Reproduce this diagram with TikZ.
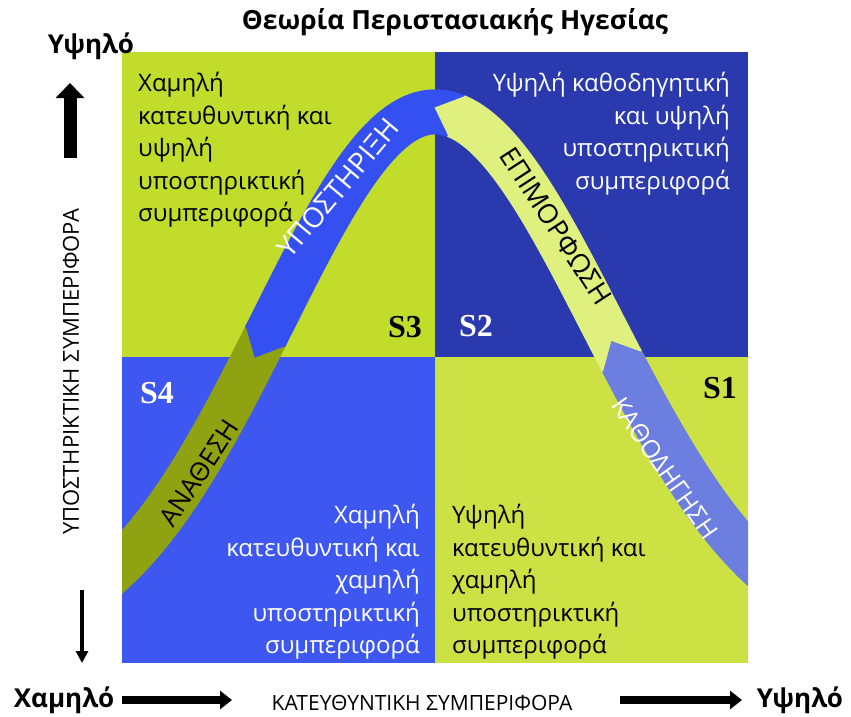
\documentclass[tikz,border=0pt]{standalone}
\usepackage{fontspec}
\setmainfont{Open Sans}
\newfontfamily\serifS{Liberation Serif}
\usetikzlibrary{arrows.meta}
\definecolor{qTL}{HTML}{C2DC2C}
\definecolor{qTR}{HTML}{2A3AAE}
\definecolor{qBL}{HTML}{3D57F0}
\definecolor{qBR}{HTML}{CCE244}
\definecolor{bBlue}{HTML}{3450F0}
\definecolor{bYel}{HTML}{E0F07E}
\definecolor{bPeri}{HTML}{6C7EE0}
\definecolor{bOlive}{HTML}{8FA312}
\tikzset{
  band/.style={line width=45pt},
  qtext/.style={inner sep=0pt, font=\fontsize{24}{32.5}\selectfont},
  slabel/.style={inner sep=0pt, font=\serifS\bfseries\fontsize{32}{32}\selectfont},
  btext/.style={inner sep=0pt, font=\fontsize{27}{27}\selectfont},
  axisbold/.style={inner sep=0pt, font=\bfseries\fontsize{26}{26}\selectfont},
  axistext/.style={inner sep=0pt, font=\fontsize{21}{21}\selectfont},
  fatarrow/.style={line width=8pt, -{Triangle[width=18pt,length=12pt]}},
}
% pointed start of a band segment at abscissa #1, colour #2
\newcommand\bandtip[2]{%
  \pgfmathsetmacro\tya{gy(#1)}%
  \pgfmathsetmacro\tm{535*exp(-gz(#1)*gz(#1))*2*gz(#1)/gs(#1)}%
  \pgfmathsetmacro\tn{sqrt(1+\tm*\tm)}%
  \pgfmathsetmacro\tdx{1/\tn}%
  \pgfmathsetmacro\tdy{\tm/\tn}%
  \fill[#2] ({#1+1.5*\tdx+22.5*\tdy},{\tya+1.5*\tdy-22.5*\tdx})
    -- ({#1-23*\tdx},{\tya-23*\tdy})
    -- ({#1+1.5*\tdx-22.5*\tdy},{\tya+1.5*\tdy+22.5*\tdx}) -- cycle;}
\begin{document}
\begin{tikzpicture}[x=1pt,y=-1pt,
  declare function={gs(\t)=ifthenelse(\t<435,230,236); gz(\t)=(\t-435)/gs(\t); gy(\t)=647-535*exp(-gz(\t)*gz(\t));}]
\useasboundingbox (0,0) rectangle (851,716);
% quadrants
\fill[qTL] (122,52) rectangle (435,357);
\fill[qTR] (435,52) rectangle (748,357);
\fill[qBL] (122,357) rectangle (435,663);
\fill[qBR] (435,357) rectangle (748,663);
% bands
\begin{scope}
\clip (122,52) rectangle (748,663);
\draw[band, bOlive] plot[domain=100:268, samples=60, variable=\t] (\t,{gy(\t)});
\draw[band, bBlue] plot[domain=265:459, samples=80, variable=\t] (\t,{gy(\t)});
\bandtip{265}{bBlue}
\draw[band, bYel] plot[domain=456:625, samples=80, variable=\t] (\t,{gy(\t)});
\bandtip{456}{bYel}
\draw[band, bPeri] plot[domain=622:790, samples=60, variable=\t] (\t,{gy(\t)});
\bandtip{622}{bPeri}
\end{scope}
% band labels
\node[btext, white, rotate=50, font=\fontsize{28}{28}\selectfont] (lsup) at (338,188) {ΥΠΟΣΤΗΡΙΞΗ};
\node[btext, black, rotate=-57] (lepi) at (556,226) {ΕΠΙΜΟΡΦΩΣΗ};
\node[btext, white, rotate=-55, font=\fontsize{25}{25}\selectfont] (lkat) at (665,468) {ΚΑΘΟΔΗΓΗΣΗ};
\node[btext, black, rotate=57, font=\fontsize{26}{26}\selectfont] (lana) at (199,473) {ΑΝΑΘΕΣΗ};
% S labels
\node[slabel, black] (s3) at (405,327) {S3};
\node[slabel, white] (s2) at (476,326) {S2};
\node[slabel, white] (s4) at (157,393) {S4};
\node[slabel, black] (s1) at (720,388) {S1};
% quadrant texts
\node[qtext, black, align=left, anchor=north west] (tl) at (138,72)
  {Χαμηλή\\κατευθυντική και\\υψηλή\\υποστηρικτική\\συμπεριφορά};
\node[qtext, white, align=right, anchor=north east] (tr) at (730,72)
  {Υψηλή καθοδηγητική\\και υψηλή\\υποστηρικτική\\συμπεριφορά};
\node[qtext, white, align=right, anchor=north east] (bl) at (420,504)
  {Χαμηλή\\κατευθυντική και\\χαμηλή\\υποστηρικτική\\συμπεριφορά};
\node[qtext, black, align=left, anchor=north west] (br) at (452,504)
  {Υψηλή\\κατευθυντική και\\χαμηλή\\υποστηρικτική\\συμπεριφορά};
% title
\node[inner sep=0pt, font=\bfseries\fontsize{26.4}{26.4}\selectfont] (title) at (455,22) {Θεωρία Περιστασιακής Ηγεσίας};
% vertical axis
\node[axisbold] (yhigh) at (91,46) {Υψηλό};
\node[axistext, rotate=90, font=\fontsize{22}{22}\selectfont] (ylab) at (71,372) {ΥΠΟΣΤΗΡΙΚΤΙΚΗ ΣΥΜΠΕΡΙΦΟΡΑ};
\coordinate (upS) at (70,158);
\coordinate (upE) at (70,83);
\draw[line width=13pt, -{Triangle[width=28pt,length=15pt]}] (upS) -- (upE);
\coordinate (dnS) at (82,590);
\coordinate (dnE) at (82,663);
\draw[line width=4pt, -{Triangle[width=12pt,length=12pt]}] (dnS) -- (dnE);
% horizontal axis
\node[axisbold] (xlow) at (64,700) {Χαμηλό};
\node[axisbold] (xhigh) at (800,700) {Υψηλό};
\node[axistext] (xlab) at (422,703) {ΚΑΤΕΥΘΥΝΤΙΚΗ ΣΥΜΠΕΡΙΦΟΡΑ};
\coordinate (l1) at (122,700);
\coordinate (l2) at (232,700);
\coordinate (r1) at (620,700);
\coordinate (r2) at (742,700);
\draw[fatarrow] (l1) -- (l2);
\draw[fatarrow] (r1) -- (r2);
\end{tikzpicture}
\end{document}
